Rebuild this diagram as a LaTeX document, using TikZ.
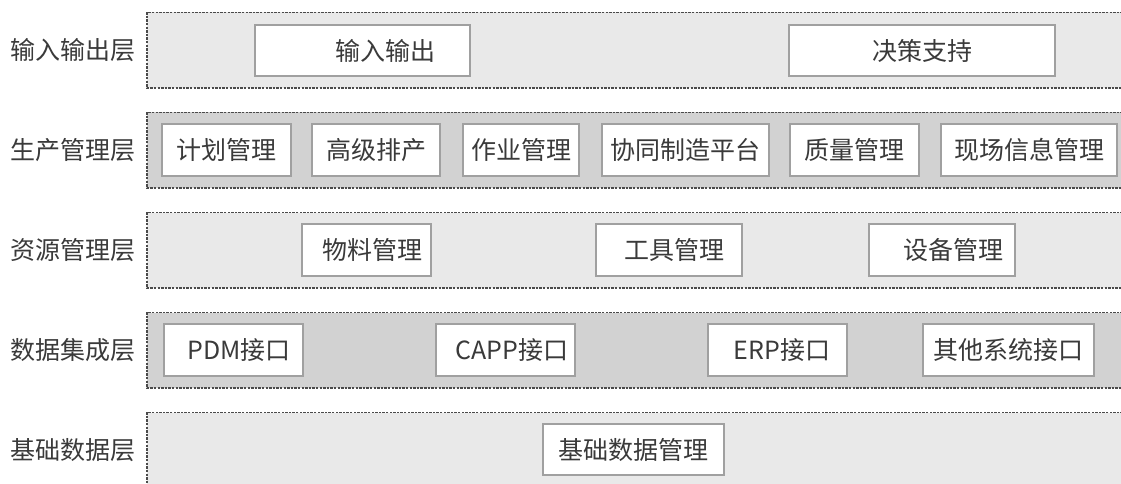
\documentclass[tikz,border=0pt]{standalone}
\usepackage{fontspec}
\setmainfont{Noto Sans CJK SC}
\definecolor{layerlight}{HTML}{E9E9E9}
\definecolor{layerdark}{HTML}{D2D2D2}
\definecolor{dashcol}{HTML}{4A4A4A}
\definecolor{boxline}{HTML}{A0A0A0}
\definecolor{txt}{HTML}{3A3A3A}
\tikzset{
  layerline/.style={draw=dashcol, line width=1.4pt, dash pattern=on 2.4pt off 1.2pt},
  box/.style={draw=boxline, fill=white, line width=1.5pt, text=txt, inner sep=0pt, font=\fontsize{25pt}{28pt}\selectfont},
  lbl/.style={anchor=west, text=txt, inner sep=0pt, font=\fontsize{25pt}{28pt}\selectfont}
}
\begin{document}
\begin{tikzpicture}[x=1pt,y=-1pt]
\useasboundingbox (0,0) rectangle (1121,484);
% layer fills
\fill[layerlight] (147,12.5) rectangle (1130,88);
\fill[layerdark]  (147,112.5) rectangle (1130,188);
\fill[layerlight] (147,212.5) rectangle (1130,288);
\fill[layerdark]  (147,312.5) rectangle (1130,388);
\fill[layerlight] (147,412.5) rectangle (1130,495);
% layer borders
\draw[layerline] (1130,12.5) -- (147,12.5) -- (147,88) -- (1130,88);
\draw[layerline] (1130,112.5) -- (147,112.5) -- (147,188) -- (1130,188);
\draw[layerline] (1130,212.5) -- (147,212.5) -- (147,288) -- (1130,288);
\draw[layerline] (1130,312.5) -- (147,312.5) -- (147,388) -- (1130,388);
\draw[layerline] (1130,412.5) -- (147,412.5) -- (147,495);
% labels
\node[lbl] (l1) at (10,50) {输入输出层};
\node[lbl] (l2) at (10,150) {生产管理层};
\node[lbl] (l3) at (10,250) {资源管理层};
\node[lbl] (l4) at (10,350) {数据集成层};
\node[lbl] (l5) at (10,450) {基础数据层};
% layer 1
\node[box, minimum width=215pt, minimum height=51pt] (io) at (362.5,50.5) {\hspace*{46pt}输入输出};
\node[box, minimum width=266pt, minimum height=51pt] (jc) at (922,50.5) {决策支持};
% layer 2
\node[box, minimum width=129pt, minimum height=52pt] (jh) at (226.5,150) {计划管理};
\node[box, minimum width=128pt, minimum height=52pt] (gj) at (376,150) {高级排产};
\node[box, minimum width=116pt, minimum height=52pt] (zy) at (521,150) {作业管理};
\node[box, minimum width=167pt, minimum height=52pt] (xt) at (685.5,150) {协同制造平台};
\node[box, minimum width=129pt, minimum height=52pt] (zl) at (854.5,150) {质量管理};
\node[box, minimum width=176pt, minimum height=52pt] (xc) at (1029,150) {现场信息管理};
% layer 3
\node[box, minimum width=129pt, minimum height=52pt] (wl) at (366.5,250) {\hspace*{12pt}物料管理};
\node[box, minimum width=146pt, minimum height=52pt] (gjg) at (669,250) {\hspace*{10pt}工具管理};
\node[box, minimum width=146pt, minimum height=52pt] (sb) at (942,250) {\hspace*{22pt}设备管理};
% layer 4
\node[box, minimum width=139pt, minimum height=52pt] (pdm) at (233.5,350) {\hspace*{11pt}PDM接口};
\node[box, minimum width=139pt, minimum height=52pt] (capp) at (505.5,350) {\hspace*{13pt}CAPP接口};
\node[box, minimum width=139pt, minimum height=52pt] (erp) at (777.5,350) {\hspace*{9pt}ERP接口};
\node[box, minimum width=171pt, minimum height=52pt] (qt) at (1008.5,350) {其他系统接口};
% layer 5
\node[box, minimum width=181pt, minimum height=51pt] (jcsj) at (633.5,449.5) {基础数据管理};
\end{tikzpicture}
\end{document}
